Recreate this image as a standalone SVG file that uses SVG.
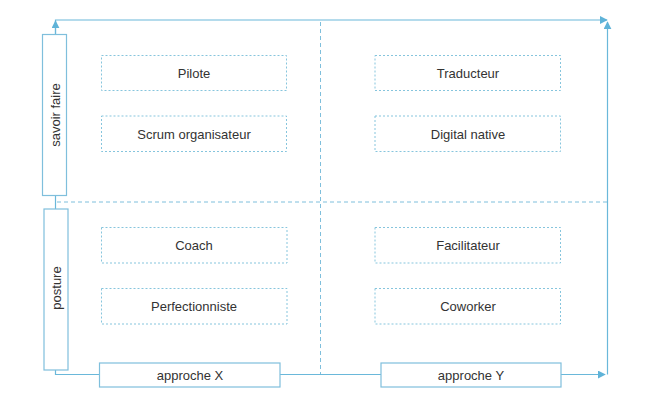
<svg xmlns="http://www.w3.org/2000/svg" width="650" height="409" viewBox="0 0 650 409">
<defs>
<marker id="arr" viewBox="0 0 10 10" refX="9" refY="5" markerWidth="8" markerHeight="8" markerUnits="userSpaceOnUse" orient="auto">
<path d="M0,0 L10,5 L0,10 Z" fill="#5fb3d8"/>
</marker>
<style>
.node rect{fill:#fff;stroke:#86c5dd;stroke-width:1;stroke-dasharray:2,2}
.side rect{fill:#fff;stroke:#7fbfdc;stroke-width:1.2}
.t{font-family:"Liberation Sans",Arial,sans-serif;font-size:13px;fill:#333;text-anchor:middle;dominant-baseline:central}
.ln{fill:none;stroke:#6ab8da;stroke-width:1.2}
.dl{fill:none;stroke:#7fbfdc;stroke-width:1;stroke-dasharray:4,3}
</style>
</defs>
<rect width="650" height="409" fill="#fff"/>
<g id="connectors">
<line class="dl" x1="320.5" y1="22" x2="320.5" y2="374"/>
<line class="dl" x1="57" y1="202" x2="607" y2="202"/>
<path class="ln" d="M55.5,34 L55.5,20 L607,20" marker-end="url(#arr)"/>
<path class="ln" d="M55.5,34 L55.5,21" marker-end="url(#arr)"/>
<path class="ln" d="M55.5,195 L55.5,209"/>
<path class="ln" d="M55.5,370 L55.5,374.5 L605,374.5" marker-end="url(#arr)"/>
<path class="ln" d="M607.5,374.5 L607.5,22" marker-end="url(#arr)"/>
</g>
<g id="savoir-faire" class="side">
<rect x="42.5" y="34.5" width="24" height="161"/>
<text class="t" transform="translate(55,115) rotate(-90)" x="0" y="0">savoir faire</text>
</g>
<g id="posture" class="side">
<rect x="44" y="209" width="24" height="161"/>
<text class="t" transform="translate(56,288) rotate(-90)" x="0" y="0">posture</text>
</g>
<g id="approche-x" class="side">
<rect x="99.5" y="363" width="180.5" height="24"/>
<text class="t" x="190" y="375">approche X</text>
</g>
<g id="approche-y" class="side">
<rect x="381" y="363" width="180" height="24"/>
<text class="t" x="471" y="375">approche Y</text>
</g>
<g id="pilote" class="node"><rect x="101.5" y="55.5" width="185" height="35"/><text class="t" x="194" y="73">Pilote</text></g>
<g id="scrum" class="node"><rect x="101.5" y="116" width="185" height="35.5"/><text class="t" x="194" y="134">Scrum organisateur</text></g>
<g id="coach" class="node"><rect x="101.5" y="227.5" width="185.5" height="35.5"/><text class="t" x="194" y="245">Coach</text></g>
<g id="perfectionniste" class="node"><rect x="101.5" y="288.5" width="185.5" height="35.5"/><text class="t" x="194" y="306">Perfectionniste</text></g>
<g id="traducteur" class="node"><rect x="375" y="55.5" width="185.5" height="35"/><text class="t" x="468" y="73">Traducteur</text></g>
<g id="digital-native" class="node"><rect x="375" y="116" width="185.5" height="35.5"/><text class="t" x="468" y="134">Digital native</text></g>
<g id="facilitateur" class="node"><rect x="375" y="227.5" width="185.5" height="35.5"/><text class="t" x="468" y="245">Facilitateur</text></g>
<g id="coworker" class="node"><rect x="375" y="288.5" width="185.5" height="35.5"/><text class="t" x="468" y="306">Coworker</text></g>
</svg>
